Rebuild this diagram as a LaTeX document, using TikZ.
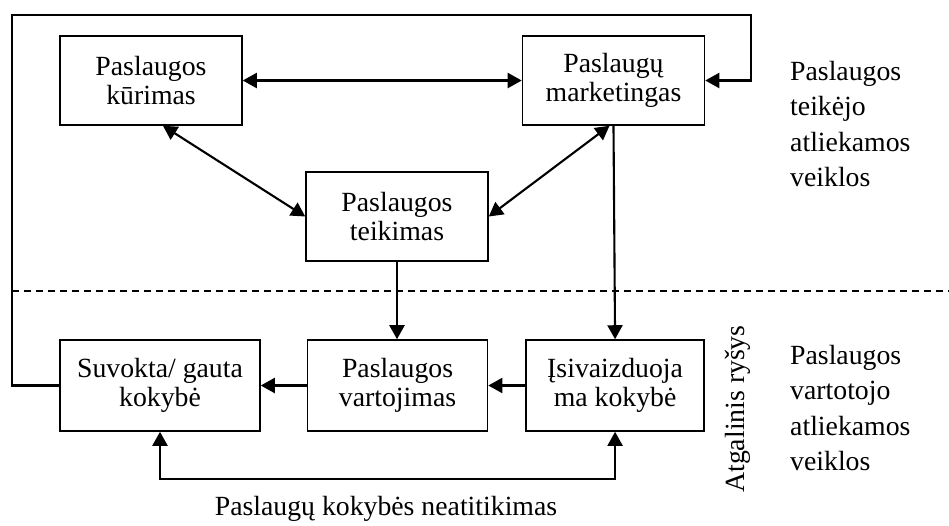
\documentclass[tikz,border=0pt]{standalone}
\usepackage{fontspec}
\setmainfont{Liberation Serif}
\usetikzlibrary{arrows.meta,positioning}

\begin{document}
\begin{tikzpicture}[
    x=0.02cm, y=-0.02cm,
    font=\fontsize{15.8}{16.5}\selectfont,
    box/.style  = {draw, line width=0.9pt, minimum width=3.64cm,
                   minimum height=1.78cm, align=center, inner sep=2pt},
    arr/.style  = {-{Triangle[length=0.28cm,width=0.3cm]}, line width=1.2pt},
    arrs/.style = {{Triangle[length=0.28cm,width=0.3cm]}-{Triangle[length=0.28cm,width=0.3cm]},
                   line width=1.2pt},
    sep/.style  = {dashed, dash pattern=on 0.14cm off 0.1cm, line width=0.7pt},
    lbl/.style  = {align=left, font=\fontsize{15.8}{20.2}\selectfont},
  ]
    \useasboundingbox (0,0) rectangle (949,525);

    % paslaugos teikejo veiklos
    \node[box]                         (kurimas)     at (151,80.5) {Paslaugos\\kūrimas};
    \node[box, right=5.58cm of kurimas](marketingas) {Paslaugų\\marketingas};
    \node[box]                         (teikimas)    at (397,216.5) {Paslaugos\\teikimas};

    % paslaugos vartotojo veiklos
    \node[box, minimum width=4cm, minimum height=1.82cm] (suvokta) at (160,385.5)
      {Suvokta/ gauta\\kokybė};
    \node[box, minimum width=3.6cm, minimum height=1.82cm, right=0.92cm of suvokta]
      (vartojimas) {Paslaugos\\vartojimas};
    \node[box, minimum width=3.56cm, minimum height=1.82cm, right=0.74cm of vartojimas]
      (isivaizduoja) {Įsivaizduoja\\ma kokybė};

    \node[lbl, anchor=west] (teikejas)   at (784,124) {Paslaugos\\teikėjo\\atliekamos\\veiklos};
    \node[lbl, anchor=west] (vartotojas) at (784,408) {Paslaugos\\vartotojo\\atliekamos\\veiklos};
    \node[rotate=90]        (atgalinis)  at (738,409) {Atgalinis ryšys};
    \node                   (neatitikimas) at (386,509) {Paslaugų kokybės neatitikimas};

    \coordinate (sepL) at (12,291);
    \coordinate (sepR) at (949,291);
    \coordinate (fbL)  at (12,15);
    \coordinate (fbR)  at (751,15);
    \coordinate (gap)  at (386,479);

    \draw[sep]  (sepL) -- (sepR);
    \draw[arrs] (kurimas) -- (marketingas);
    \draw[arrs] ([xshift=0.24cm]kurimas.south) -- (teikimas.west);
    \draw[arrs] ([xshift=-0.08cm]marketingas.south) -- (teikimas.east);
    \draw[arr]  (marketingas.south) -- (isivaizduoja.north);
    \draw[arr]  (teikimas.south) -- (teikimas.south |- vartojimas.north);
    \draw[arr]  (vartojimas) -- (suvokta);
    \draw[arr]  (isivaizduoja) -- (vartojimas);
    \draw[arr]  (suvokta.west) -| (fbL) -- (fbR) |- (marketingas.east);
    \draw[arrs] (suvokta.south) |- (gap) -| (isivaizduoja.south);
  \end{tikzpicture}
\end{document}
